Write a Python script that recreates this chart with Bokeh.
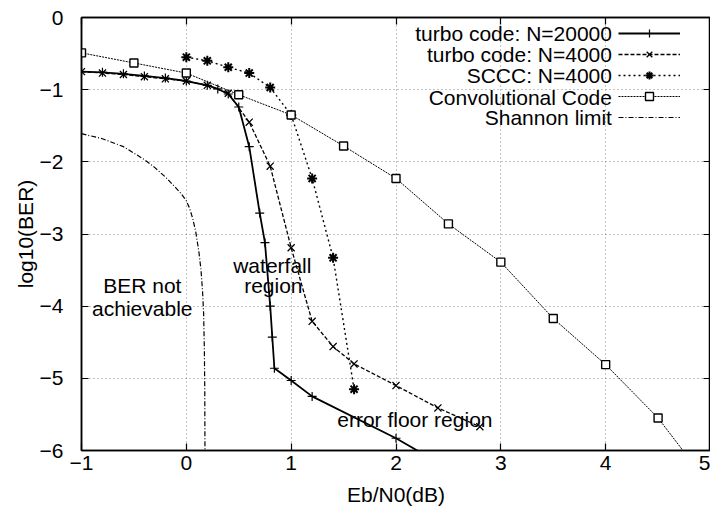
from bokeh.plotting import figure
from bokeh.models import (Range1d, FixedTicker, LinearAxis, Legend, LegendItem, Label)
from bokeh.embed import file_html
from bokeh.resources import INLINE

# ---------------- data ----------------
x_ticks = [-1, 0, 1, 2, 3, 4, 5]
y_ticks = [0, -1, -2, -3, -4, -5, -6]

turbo20000_x = [-1, -0.8, -0.6, -0.4, -0.2, 0, 0.2, 0.3, 0.4, 0.5, 0.6, 0.7, 0.75, 0.8, 0.82, 0.84, 1.0, 1.2, 2.0, 2.5]
turbo20000_y = [-0.75, -0.76, -0.78, -0.81, -0.84, -0.88, -0.94, -0.99, -1.06, -1.24, -1.79, -2.71, -3.12, -4.0, -4.43, -4.86, -5.03, -5.25, -5.83, -6.25]

turbo4000_x = [-1, -0.8, -0.6, -0.4, -0.2, 0, 0.2, 0.4, 0.6, 0.8, 1.0, 1.2, 1.4, 1.6, 2.0, 2.4, 2.8]
turbo4000_y = [-0.75, -0.77, -0.79, -0.82, -0.85, -0.88, -0.94, -1.05, -1.45, -2.06, -3.19, -4.21, -4.56, -4.80, -5.10, -5.41, -5.67]

sccc_x = [0, 0.2, 0.4, 0.6, 0.8, 1.0, 1.2, 1.4, 1.6]
sccc_y = [-0.55, -0.60, -0.69, -0.77, -0.97, -1.35, -2.23, -3.33, -5.15]

conv_x = [-1, -0.5, 0, 0.5, 1, 1.5, 2, 2.5, 3, 3.5, 4, 4.5, 5]
conv_y = [-0.49, -0.63, -0.77, -1.07, -1.35, -1.78, -2.23, -2.86, -3.39, -4.17, -4.81, -5.55, -6.5]

shannon_x = [-1, -0.8, -0.6, -0.4, -0.3, -0.2, -0.1, -0.05, 0, 0.03, 0.06, 0.09, 0.12, 0.14, 0.155, 0.165, 0.172, 0.176, 0.178]
shannon_y = [-1.61, -1.68, -1.79, -1.97, -2.08, -2.21, -2.36, -2.44, -2.54, -2.64, -2.78, -2.97, -3.25, -3.5, -3.8, -4.1, -4.6, -5.2, -6.2]

legend_labels = ["turbo code: N=20000", "turbo code: N=4000", "SCCC: N=4000",
                 "Convolutional Code", "Shannon limit"]

FONT = "Liberation Sans"
FS = "21px"

p = figure(width=710, height=512, output_backend="svg", toolbar_location=None,
           x_range=Range1d(-1, 5), y_range=Range1d(-6, 0),
           min_border_left=81, min_border_right=0, min_border_top=17, min_border_bottom=62)
p.background_fill_color = "white"
p.border_fill_color = "white"
p.outline_line_color = "black"
p.outline_line_width = 1.5

# axes
for ax in (p.xaxis[0], p.yaxis[0]):
    ax.major_tick_in = 7
    ax.major_tick_out = 0
    ax.minor_tick_in = 0
    ax.minor_tick_out = 0
    ax.axis_line_color = "black"
    ax.axis_line_width = 1.5
    ax.major_tick_line_width = 1.2
    ax.major_label_text_font = FONT
    ax.major_label_text_font_size = FS
    ax.major_label_text_color = "black"
    ax.axis_label_text_font = FONT
    ax.axis_label_text_font_size = FS
    ax.axis_label_text_font_style = "normal"
    ax.axis_label_text_color = "black"

p.xaxis[0].ticker = FixedTicker(ticks=x_ticks)
p.yaxis[0].ticker = FixedTicker(ticks=y_ticks)
p.xaxis[0].axis_label = "Eb/N0(dB)"
p.yaxis[0].axis_label = "log10(BER)"
p.xaxis[0].major_label_standoff = 5
p.xaxis[0].axis_label_standoff = 10
p.yaxis[0].major_label_standoff = 18
p.yaxis[0].axis_label_standoff = 0

# inward ticks on top and right
top_ax = LinearAxis(ticker=FixedTicker(ticks=x_ticks))
right_ax = LinearAxis(ticker=FixedTicker(ticks=y_ticks))
for ax in (top_ax, right_ax):
    ax.major_tick_in = 7
    ax.major_tick_out = 0
    ax.minor_tick_in = 0
    ax.minor_tick_out = 0
    ax.major_label_text_font_size = "0px"
    ax.major_label_text_color = None
    ax.major_label_standoff = 0
    ax.axis_line_color = "black"
    ax.axis_line_width = 1.5
    ax.major_tick_line_width = 1.2
p.add_layout(top_ax, "above")
p.add_layout(right_ax, "right")

# grid
for g in (p.xgrid[0], p.ygrid[0]):
    g.grid_line_color = "#555555"
    g.grid_line_dash = "1 3"
    g.grid_line_width = 1
    g.grid_line_alpha = 0.7
p.xgrid[0].ticker = FixedTicker(ticks=x_ticks)
p.ygrid[0].ticker = FixedTicker(ticks=y_ticks)

# series
r1 = p.line(turbo20000_x, turbo20000_y, line_color="black", line_width=1.8)
m1 = p.scatter(turbo20000_x, turbo20000_y, marker="cross", size=9, line_color="black", line_width=1.2)

r2 = p.line(turbo4000_x, turbo4000_y, line_color="black", line_width=1.3, line_dash="4 2")
m2 = p.scatter(turbo4000_x, turbo4000_y, marker="x", size=10, line_color="black", line_width=1.3)

r3 = p.line(sccc_x, sccc_y, line_color="black", line_width=1.4, line_dash="2 3")
m3 = p.scatter(sccc_x, sccc_y, marker="asterisk", size=10, line_color="black", line_width=2)

r4 = p.line(conv_x, conv_y, line_color="black", line_width=1.0, line_dash="2 1")
m4 = p.scatter(conv_x, conv_y, marker="square", size=8, line_color="black", line_width=1.4,
               fill_color="white")

r5 = p.line(shannon_x, shannon_y, line_color="black", line_width=1.2, line_dash="5 2 1 2")

# legend sample lines (text drawn separately, right-aligned like gnuplot)
items = [LegendItem(label=" ", renderers=[r1, m1]),
         LegendItem(label=" ", renderers=[r2, m2]),
         LegendItem(label=" ", renderers=[r3, m3]),
         LegendItem(label=" ", renderers=[r4, m4]),
         LegendItem(label=" ", renderers=[r5])]
leg = Legend(items=items, location=(537, 323), glyph_width=62, glyph_height=20,
             label_height=20, label_width=0, label_standoff=0, spacing=1, padding=0,
             margin=0, border_line_color=None, background_fill_alpha=0,
             label_text_font_size="10px")
p.add_layout(leg, "center")

legend_y = [-0.226, -0.517, -0.804, -1.105, -1.382]
for lab, ly in zip(legend_labels, legend_y):
    p.add_layout(Label(x=4.06, y=ly, text=lab, text_align="right", text_baseline="middle",
                       text_font=FONT, text_font_size=FS, text_color="black"))

# region annotations
ann = [("BER not", -0.42, -3.71), ("achievable", -0.42, -4.03),
       ("waterfall", 0.82, -3.43), ("region", 0.83, -3.71),
       ("error floor region", 2.18, -5.57)]
for t, ax_, ay in ann:
    p.add_layout(Label(x=ax_, y=ay, text=t, text_align="center", text_baseline="middle",
                       text_font=FONT, text_font_size=FS, text_color="black"))

open("out.html", "w").write(file_html(p, INLINE))
